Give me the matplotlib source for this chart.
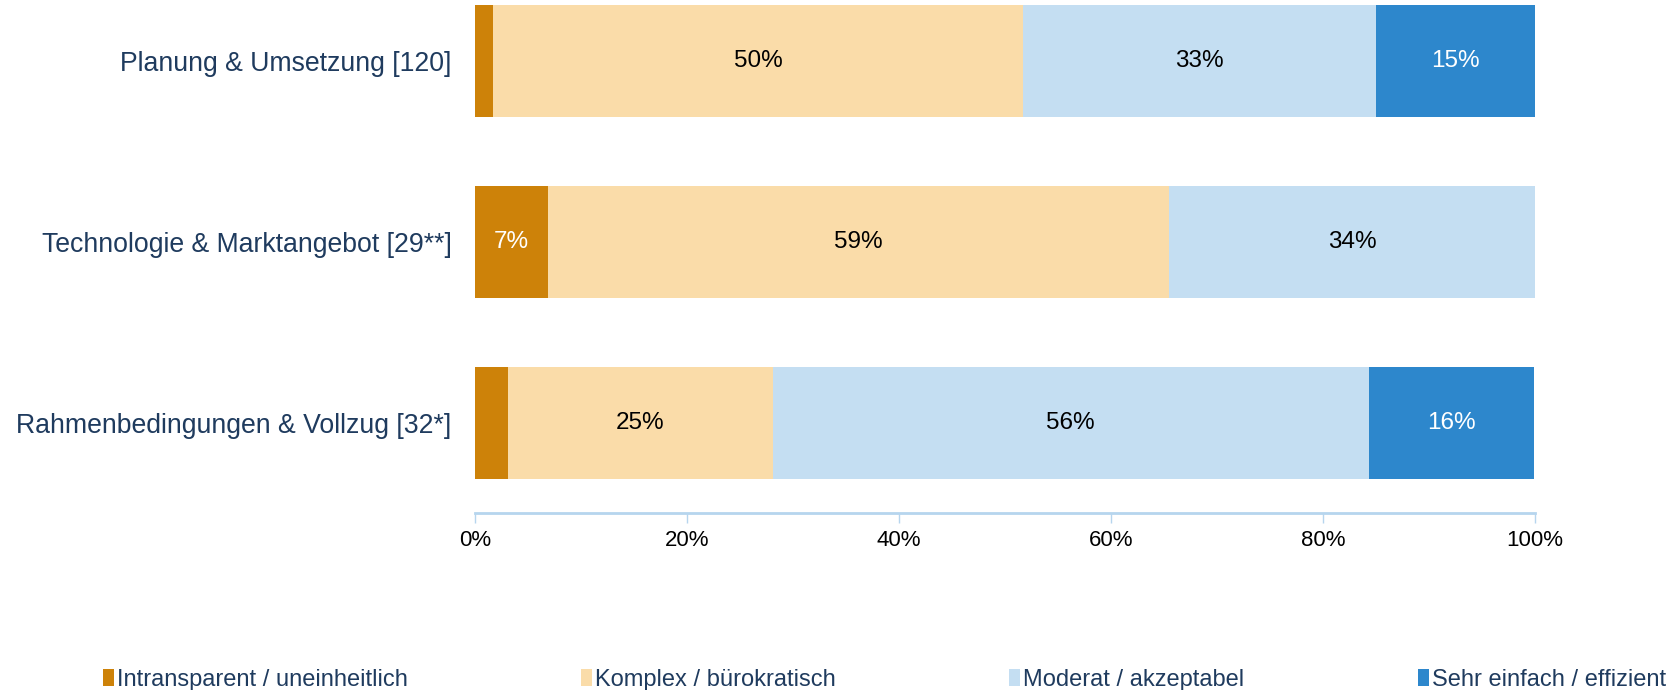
import matplotlib.pyplot as plt
import numpy as np

plt.rcParams['font.family'] = ['Liberation Sans', 'DejaVu Sans']

# Data
categories = ["Planung & Umsetzung [120]",
              "Technologie & Marktangebot [29**]",
              "Rahmenbedingungen & Vollzug [32*]"]
series_names = ["Intransparent / uneinheitlich", "Komplex / bürokratisch",
                "Moderat / akzeptabel", "Sehr einfach / effizient"]
intransparent = [1.7, 6.9, 3.1]
komplex = [50.0, 58.6, 25.0]
moderat = [33.3, 34.5, 56.2]
sehr_einfach = [15.0, 0.0, 15.6]
tick_labels = ["0%", "20%", "40%", "60%", "80%", "100%"]

colors = ["#CD8209", "#FADCA9", "#C4DEF2", "#2D87CC"]
text_colors = ["white", "black", "black", "white"]
label_color = "#1F3B5E"

fig = plt.figure(figsize=(16.75, 6.9), dpi=100)
ax = fig.add_axes([0.2836, 0.2565, 0.6328, 0.7415])

y = np.arange(len(categories))[::-1]
left = np.zeros(len(categories))
for vals, name, col, tcol in zip([intransparent, komplex, moderat, sehr_einfach],
                                 series_names, colors, text_colors):
    vals = np.array(vals)
    ax.barh(y, vals, left=left, height=0.62, color=col, label=name)
    for yi, l, v in zip(y, left, vals):
        if v >= 5:
            ax.text(l + v / 2, yi, f"{v:.0f}%", ha="center", va="center",
                    fontsize=17.5, color=tcol)
    left += vals

ax.set_xlim(0, 100)
ax.set_ylim(-0.5, 2.33)
ax.set_yticks(y)
ax.set_yticklabels(categories, fontsize=19.2, color=label_color)
ax.set_xticks(np.arange(0, 101, 20))
ax.set_xticklabels(tick_labels, fontsize=16)

for s in ["top", "right", "left"]:
    ax.spines[s].set_visible(False)
ax.spines["bottom"].set_color("#B6D5EE")
ax.spines["bottom"].set_linewidth(2)
ax.spines["bottom"].set_bounds(0, 100)
ax.tick_params(axis="y", length=0, pad=17)
ax.tick_params(axis="x", color="#B6D5EE", length=7, width=1, pad=5.5)

fig.legend(loc="center", bbox_to_anchor=(0.528, 0.015), ncol=4, frameon=False,
           fontsize=17, handlelength=0.47, handleheight=0.7, handletextpad=0.12,
           columnspacing=7.35, labelcolor=label_color)

fig.savefig("out.png", dpi=100)
